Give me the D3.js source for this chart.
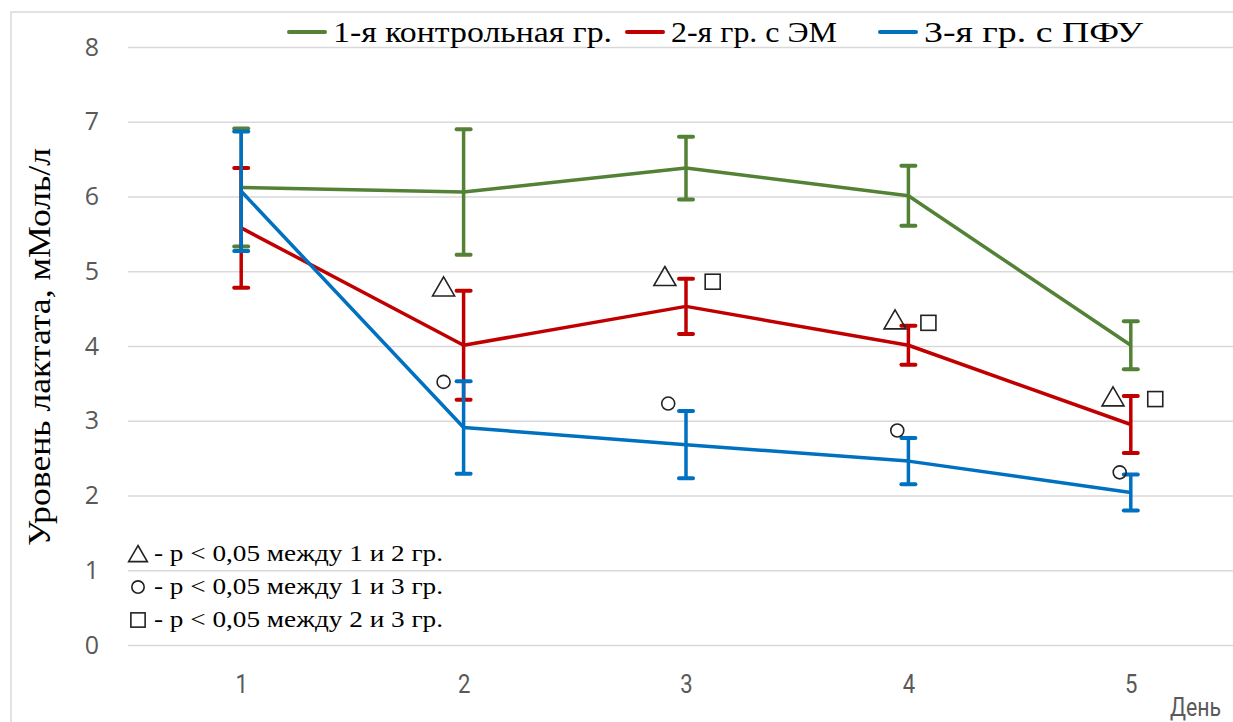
<!DOCTYPE html>
<html><head><meta charset="utf-8">
<script src="https://cdn.jsdelivr.net/npm/d3@7"></script>
<style>body{margin:0;background:#fff;overflow:hidden}</style>
</head><body>
<svg id="chart" width="1233" height="722"></svg>
<script>
// ---- data ----
const days = [1, 2, 3, 4, 5];
const seriesNames = ["1-я контрольная гр.", "2-я гр. с ЭМ", "3-я гр. с ПФУ"];
const seriesColors = ["#538135", "#C00000", "#0070C0"];
const group1 = [6.12, 6.06, 6.38, 6.01, 4.01];
const group1Err = [0.79, 0.84, 0.42, 0.40, 0.32];
const group2 = [5.58, 4.01, 4.53, 4.01, 2.95];
const group2Err = [0.80, 0.73, 0.37, 0.26, 0.38];
const group3 = [6.07, 2.91, 2.68, 2.46, 2.04];
const group3Err = [0.80, 0.62, 0.45, 0.31, 0.24];
const yTicks = [0, 1, 2, 3, 4, 5, 6, 7, 8];
const markerSymbols = ["tri", "circ", "tri", "sq", "circ", "tri", "sq", "circ", "tri", "sq", "circ"];
const markerDays =    [1.91, 1.91, 2.905, 3.12, 2.92, 3.94, 4.09, 3.95, 4.92, 5.11, 4.95];
const markerValues =  [4.79, 3.52, 4.93, 4.86, 3.23, 4.35, 4.31, 2.87, 3.32, 3.29, 2.31];
const keySymbols = ["tri", "circ", "sq"];
const keyTexts = ["- p < 0,05 между 1 и 2 гр.", "- p < 0,05 между 1 и 3 гр.", "- p < 0,05 между 2 и 3 гр."];
const yTitle = "Уровень лактата, мМоль/л";
const xTitle = "День";

const series = [
  {name: seriesNames[0], color: seriesColors[0], v: group1, e: group1Err},
  {name: seriesNames[1], color: seriesColors[1], v: group2, e: group2Err},
  {name: seriesNames[2], color: seriesColors[2], v: group3, e: group3Err}
];

const svg = d3.select("#chart");
const x = d3.scaleLinear().domain([1, 5]).range([241.2, 1130.8]);
const y = d3.scaleLinear().domain([0, 8]).range([645, 47]);

// frame
svg.append("rect").attr("x", 11).attr("y", 12).attr("width", 1300).attr("height", 760)
  .attr("fill", "#fff").attr("stroke", "#d9d9d9").attr("stroke-width", 1.5);

// gridlines + y labels
const yAxis = d3.axisLeft(y).tickValues(yTicks).tickSize(-1200).tickPadding(29).tickFormat(d3.format("d"));
const gy = svg.append("g").attr("transform", "translate(128,0)").call(yAxis);
gy.select(".domain").remove();
gy.selectAll(".tick line").attr("stroke", "#d9d9d9").attr("stroke-width", 1.5);
gy.selectAll(".tick text").attr("fill", "#595959").style("font-family", "'Open Sans', sans-serif").style("font-size", "25px");

// x axis labels
const xAxis = d3.axisBottom(x).tickValues(days).tickSize(0).tickPadding(30).tickFormat(d3.format("d"));
const gx = svg.append("g").attr("transform", "translate(0,645)").call(xAxis);
gx.select(".domain").remove();
gx.selectAll(".tick text").attr("fill", "#595959").style("font-family", "'Liberation Sans Narrow', 'Roboto', sans-serif").style("font-size", "26px")
  .attr("transform", "scale(0.85,1)");

svg.append("text").attr("transform", "translate(1170,716) scale(0.85,1)").text(xTitle)
  .attr("fill", "#595959").style("font-family", "'Liberation Sans Narrow', 'Roboto', sans-serif").style("font-size", "25px");

// y title
svg.append("text").attr("transform", "translate(50,347) rotate(-90)").attr("text-anchor", "middle")
  .attr("textLength", 398).attr("lengthAdjust", "spacingAndGlyphs")
  .style("font-family", "'Liberation Serif', serif").style("font-size", "32px").attr("fill", "#000").text(yTitle);

// series
const line = d3.line().x((d, i) => x(days[i])).y(d => y(d));
series.forEach(s => {
  svg.append("path").datum(s.v).attr("d", line).attr("fill", "none")
    .attr("stroke", s.color).attr("stroke-width", 3.5).attr("stroke-linejoin", "round");
  const eb = svg.append("g");
  s.v.forEach((v, i) => {
    const cx = x(days[i]);
    eb.append("line").attr("x1", cx).attr("x2", cx).attr("y1", y(v + s.e[i])).attr("y2", y(v - s.e[i]))
      .attr("stroke", s.color).attr("stroke-width", 3.5);
    [v + s.e[i], v - s.e[i]].forEach(w => {
      eb.append("line").attr("x1", cx - 7).attr("x2", cx + 7).attr("y1", y(w)).attr("y2", y(w))
        .attr("stroke", s.color).attr("stroke-width", 4).attr("stroke-linecap", "round");
    });
  });
});

// symbol drawing
function drawSym(g, type, cx, cy, k) {
  k = k || 1;
  if (type === "tri") {
    g.append("path").attr("d", `M${cx},${cy - 10 * k}L${cx + 11 * k},${cy + 9 * k}L${cx - 11 * k},${cy + 9 * k}Z`)
      .attr("fill", "none").attr("stroke", "#222").attr("stroke-width", 1.6).attr("stroke-linejoin", "miter");
  } else if (type === "circ") {
    g.append("circle").attr("cx", cx).attr("cy", cy).attr("r", 6.5 * k)
      .attr("fill", "none").attr("stroke", "#222").attr("stroke-width", 1.6);
  } else {
    g.append("rect").attr("x", cx - 7.5 * k).attr("y", cy - 7.5 * k).attr("width", 15 * k).attr("height", 15 * k)
      .attr("fill", "none").attr("stroke", "#222").attr("stroke-width", 1.6);
  }
}
const mg = svg.append("g");
markerSymbols.forEach((t, i) => drawSym(mg, t, x(markerDays[i]), y(markerValues[i])));

// significance key
const kg = svg.append("g");
keyTexts.forEach((t, i) => {
  const cy = 553 + i * 33;
  drawSym(kg, keySymbols[i], 138, cy + 1, keySymbols[i] === "tri" ? 0.85 : 0.95);
  kg.append("text").attr("x", 154).attr("y", cy + 8).text(t)
    .attr("textLength", 289).attr("lengthAdjust", "spacingAndGlyphs")
    .style("font-family", "'Liberation Serif', serif").style("font-size", "24px").attr("fill", "#000");
});

// legend
const legX = [289, 627, 880];
const legW = [279, 166, 219];
const lg = svg.append("g");
series.forEach((s, i) => {
  lg.append("line").attr("x1", legX[i]).attr("x2", legX[i] + 36).attr("y1", 32).attr("y2", 32)
    .attr("stroke", s.color).attr("stroke-width", 4).attr("stroke-linecap", "round");
  lg.append("text").attr("x", legX[i] + 44).attr("y", 42).text(s.name)
    .attr("textLength", legW[i]).attr("lengthAdjust", "spacingAndGlyphs")
    .style("font-family", "'Liberation Serif', serif").style("font-size", "29px").attr("fill", "#000");
});
</script>
</body></html>
